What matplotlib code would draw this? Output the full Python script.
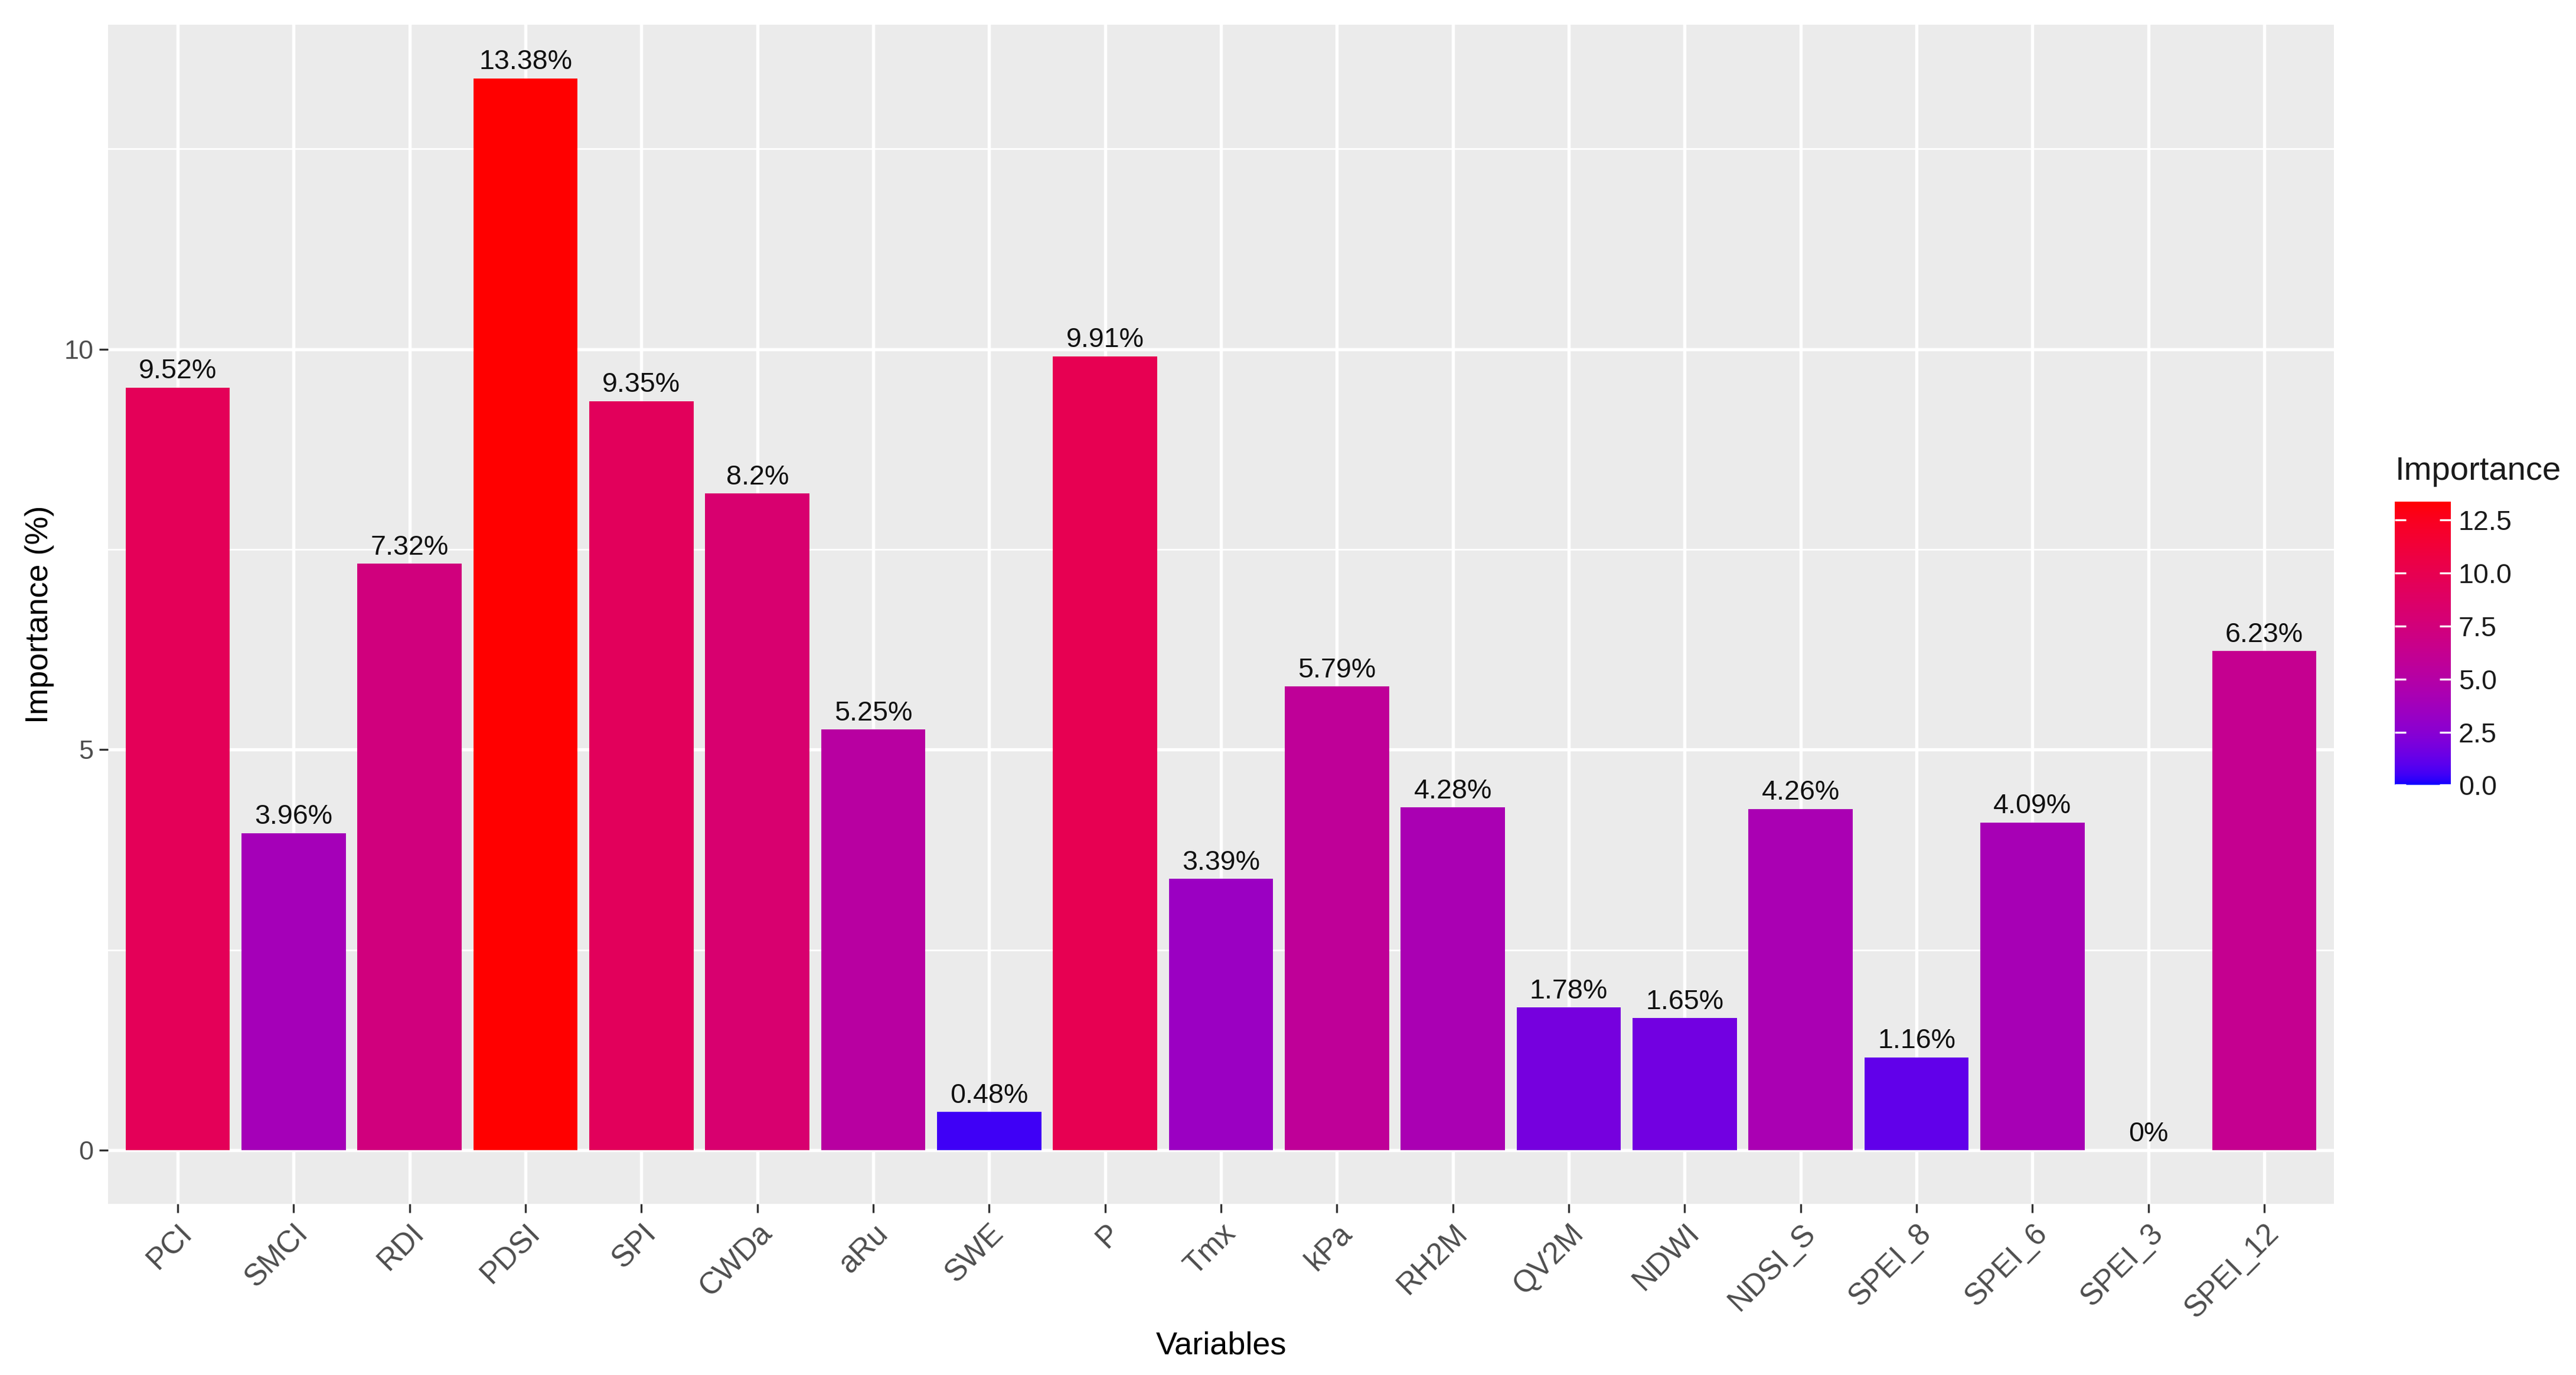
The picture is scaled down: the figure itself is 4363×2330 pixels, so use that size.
import numpy as np
import matplotlib
matplotlib.use("Agg")
import matplotlib.pyplot as plt
from matplotlib.colors import ListedColormap, Normalize

# dados
variaveis = ["PCI", "SMCI", "RDI", "PDSI", "SPI", "CWDa", "aRu", "SWE", "P", "Tmx",
             "kPa", "RH2M", "QV2M", "NDWI", "NDSI_S", "SPEI_8", "SPEI_6", "SPEI_3", "SPEI_12"]
importancia = [9.52, 3.96, 7.32, 13.38, 9.35, 8.2, 5.25, 0.48, 9.91, 3.39,
               5.79, 4.28, 1.78, 1.65, 4.26, 1.16, 4.09, 0, 6.23]
y_ticks = [0, 5, 10]
y_minor = [2.5, 7.5, 12.5]
cbar_ticks = [0.0, 2.5, 5.0, 7.5, 10.0, 12.5]

plt.rcParams['font.family'] = ['Liberation Sans', 'DejaVu Sans']

# gradiente blue -> red interpolado em CIELAB (como o ggplot)
WHITE = np.array([0.95047, 1.0, 1.08883])
M = np.array([[0.4124, 0.3576, 0.1805], [0.2126, 0.7152, 0.0722], [0.0193, 0.1192, 0.9505]])

def rgb_para_lab(rgb):
    c = np.asarray(rgb, dtype=float)
    lin = np.where(c <= 0.04045, c / 12.92, ((c + 0.055) / 1.055) ** 2.4)
    t = (M @ lin) / WHITE
    d = 6 / 29
    f = np.where(t > d ** 3, np.cbrt(t), t / (3 * d * d) + 4 / 29)
    return np.array([116 * f[1] - 16, 500 * (f[0] - f[1]), 200 * (f[1] - f[2])])

def lab_para_rgb(lab):
    L, a, b = lab
    fy = (L + 16) / 116
    f = np.array([fy + a / 500, fy, fy - b / 200])
    d = 6 / 29
    t = np.where(f > d, f ** 3, 3 * d * d * (f - 4 / 29)) * WHITE
    lin = np.linalg.solve(M, t)
    lin = np.clip(lin, 0, 1)
    c = np.where(lin <= 0.0031308, 12.92 * lin, 1.055 * lin ** (1 / 2.4) - 0.055)
    return np.clip(c, 0, 1)

lab_baixo = rgb_para_lab([0, 0, 1])
lab_alto = rgb_para_lab([1, 0, 0])
cores = [lab_para_rgb(lab_baixo + (lab_alto - lab_baixo) * s) for s in np.linspace(0, 1, 256)]
cmap = ListedColormap(cores)
norm = Normalize(vmin=0, vmax=max(importancia))

fig = plt.figure(figsize=(4363 / 300, 2330 / 300), dpi=300)
ax = fig.add_axes([0.042, 0.1245, 0.864, 0.8575])
ax.set_facecolor('#EBEBEB')

x = np.arange(1, len(variaveis) + 1)
ax.bar(x, importancia, width=0.9, color=cmap(norm(np.array(importancia))), zorder=3)

for xi, v in zip(x, importancia):
    ax.text(xi, v + 0.04, f"{v:g}%", ha='center', va='bottom', fontsize=11.2,
            color='#111111', zorder=4)

ax.set_xlim(0.4, len(variaveis) + 0.6)
ax.set_ylim(-0.669, 14.05)
ax.set_xticks(x)
ax.set_xticklabels(variaveis, rotation=45, ha='right', va='top', rotation_mode='anchor',
                   fontsize=12.3, color='#4D4D4D')
ax.set_yticks(y_ticks)
ax.set_yticklabels([str(t) for t in y_ticks], fontsize=10.8, color='#4D4D4D')
ax.set_yticks(y_minor, minor=True)
ax.tick_params(which='major', length=3.5, width=0.8, color='#333333', pad=2.5)
ax.tick_params(which='minor', length=0)
ax.grid(which='major', color='white', linewidth=1.3, zorder=0)
ax.grid(which='minor', axis='y', color='white', linewidth=0.65, zorder=0)
ax.set_axisbelow(True)
for s in ax.spines.values():
    s.set_visible(False)

ax.set_xlabel("Variables", fontsize=13, labelpad=3)
ax.set_ylabel("Importance (%)", fontsize=13, labelpad=4)

# legenda de cor
cax = fig.add_axes([0.9297, 0.429, 0.0218, 0.2064])
sm = plt.cm.ScalarMappable(norm=norm, cmap=cmap)
cbar = fig.colorbar(sm, cax=cax, ticks=cbar_ticks)
cbar.outline.set_visible(False)
cbar.ax.set_yticklabels([f"{t:.1f}" for t in cbar_ticks])
cbar.ax.tick_params(direction='in', length=4.5, width=0.8, color='white',
                    left=True, right=True, labelleft=False, labelright=True,
                    labelsize=11.2, labelcolor='#1A1A1A', pad=3)
fig.text(0.9297, 0.651, "Importance", fontsize=13.5, ha='left', va='baseline', color='#1A1A1A')

fig.savefig("out.png", dpi=300, facecolor='white')
